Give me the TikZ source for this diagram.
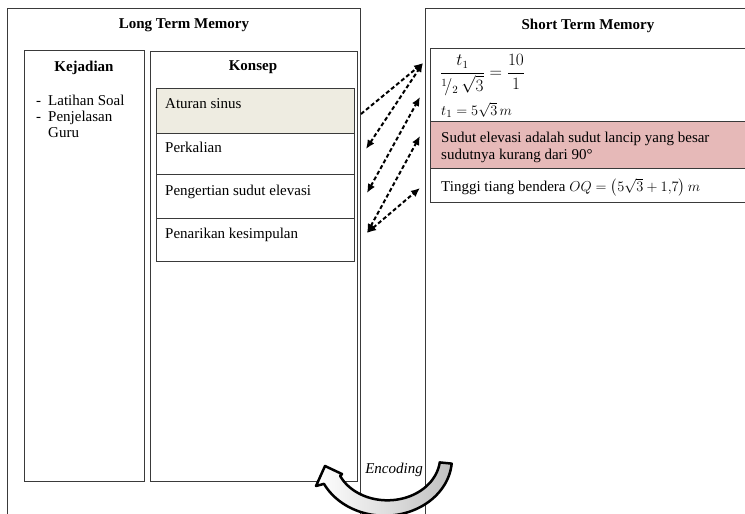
\documentclass[tikz,border=0pt]{standalone}
\usepackage{amsmath}
\usepackage{fontspec}
\setmainfont{Liberation Serif}
\usetikzlibrary{arrows.meta}
\definecolor{beige}{HTML}{EEECE1}
\definecolor{pinkbox}{HTML}{E6B9B8}
\definecolor{linegray}{HTML}{3A3A3A}
\begin{document}
\begin{tikzpicture}[x=1pt,y=-1pt,
  box/.style={draw=linegray, line width=1pt, inner sep=0pt, anchor=north west},
  ttl/.style={font=\bfseries\fontsize{15}{18}\selectfont, inner sep=0pt},
  txt/.style={font=\fontsize{15}{18}\selectfont, anchor=base west, inner sep=0pt},
  link/.style={line width=2pt, dash pattern=on 4pt off 2.5pt, -{Latex[length=9pt,width=8pt]}},
  dlink/.style={link, {Latex[length=9pt,width=8pt]}-{Latex[length=9pt,width=8pt]}},
]
\useasboundingbox (0,0) rectangle (745,514);
\fill[white] (0,0) rectangle (745,514);

% main memory boxes
\node[box, minimum width=353pt, minimum height=540pt] (ltm) at (7,8) {};
\node[box, minimum width=330pt, minimum height=540pt] (stm) at (425,8) {};
\node[ttl] (ltmtitle) at (184,25) {Long Term Memory};
\node[ttl] (stmtitle) at (588,26) {Short Term Memory};

% Kejadian
\node[box, minimum width=120pt, minimum height=431pt] (kej) at (24,50) {};
\node[ttl] (kejtitle) at (84,68) {Kejadian};
\node[txt] (d1) at (36,105) {-};
\node[txt] (i1) at (48,105) {Latihan Soal};
\node[txt] (d2) at (36,121) {-};
\node[txt] (i2) at (48,121) {Penjelasan};
\node[txt] (i3) at (48,137) {Guru};

% Konsep
\node[box, minimum width=207pt, minimum height=430pt] (kon) at (150,51) {};
\node[ttl] (kontitle) at (253,67) {Konsep};
\node[box, fill=beige, minimum width=198pt, minimum height=45pt] (k1) at (156,88) {};
\node[box, minimum width=198pt, minimum height=41pt] (k2) at (156,133) {};
\node[box, minimum width=198pt, minimum height=44pt] (k3) at (156,174) {};
\node[box, minimum width=198pt, minimum height=43pt] (k4) at (156,218) {};
\node[txt] (k1t) at (165,108) {Aturan sinus};
\node[txt] (k2t) at (165,152) {Perkalian};
\node[txt] (k3t) at (165,195) {Pengertian sudut elevasi};
\node[txt] (k4t) at (165,238) {Penarikan kesimpulan};

% Short term memory items
\node[box, minimum width=330pt, minimum height=73pt] (s1) at (430,48) {};
\node[box, fill=pinkbox, minimum width=330pt, minimum height=47pt] (s2) at (430,121) {};
\node[box, minimum width=330pt, minimum height=34pt] (s3) at (430,168) {};
\node[anchor=west, inner sep=0pt, font=\fontsize{16}{19}\selectfont] (frac) at (440,75)
  {$\dfrac{t_1}{{}^{1}\!/_{2}\,\sqrt{3}}=\dfrac{10}{1}$};
\node[txt] (t1) at (441,115) {$t_1 = 5\sqrt{3}\,m$};
\node[txt] (p1) at (441,142) {Sudut elevasi adalah sudut lancip yang besar};
\node[txt] (p2) at (441,159) {sudutnya kurang dari 90°};
\node[txt] (tg) at (441,191) {Tinggi tiang bendera $OQ=\left(5\sqrt{3}+1{,}7\right)m$};

% connectors
\coordinate (a1s) at (361,114);
\coordinate (a1e) at (423,63);
\coordinate (a2s) at (366,149);
\coordinate (a3s) at (367,193);
\coordinate (a3e) at (420,97);
\coordinate (a4s) at (367,233);
\coordinate (a4e) at (420,136);
\coordinate (a5e) at (420,188);
\draw[link] (a1s) -- (a1e);
\draw[dlink] (a2s) -- (a1e);
\draw[dlink] (a3s) -- (a3e);
\draw[dlink] (a4s) -- (a4e);
\draw[dlink] (a4s) -- (a5e);

% Encoding curved arrow
\path[draw=black, line width=2.5pt, line join=round, left color=white, right color=gray!50]
  (439.7,462.4) -- (451.7,463.6)
  -- plot[domain=6:154, samples=60] ({386+(66+0.0203*(\x-6))*cos(\x)},{458+(56+0.0203*(\x-6))*sin(\x)})
  -- (316,486) -- (325,466) -- (342,474)
  -- plot[domain=154:6, samples=60] ({386+(54-0.0203*(\x-6))*cos(\x)},{458+(44-0.0203*(\x-6))*sin(\x)})
  -- cycle;
\node[font=\itshape\fontsize{15}{18}\selectfont, inner sep=0pt] (enc) at (394,470) {Encoding};
\end{tikzpicture}
\end{document}
